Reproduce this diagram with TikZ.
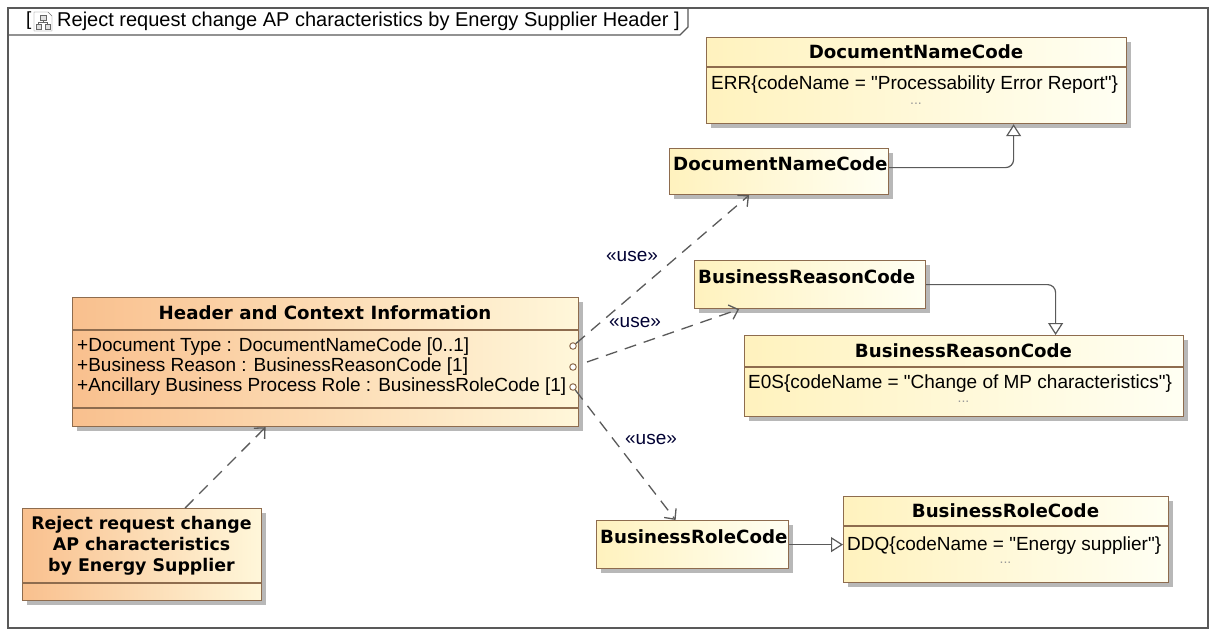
\documentclass[tikz,border=0pt]{standalone}
\usepackage{fontspec}
\setmainfont{Liberation Sans}[Ligatures=TeXOff]
\newfontfamily\namefont{DejaVu Sans}
\usetikzlibrary{positioning,shadows,arrows.meta}

\definecolor{umlline}{HTML}{8E6C4E}
\definecolor{codeA}{HTML}{FFF2BE}
\definecolor{codeB}{HTML}{FFFFF3}
\definecolor{partA}{HTML}{F9C08E}
\definecolor{partB}{HTML}{FFF7DA}
\definecolor{wire}{HTML}{5A5A5A}

\tikzset{
  umlbox/.style={draw=umlline, line width=1.2pt, anchor=north west, inner sep=0pt,
    drop shadow={shadow xshift=4pt, shadow yshift=-4pt, fill=black!28, opacity=1}},
  codebox/.style={umlbox, left color=codeA, right color=codeB},
  partbox/.style={umlbox, left color=partA, right color=partB},
  boxname/.style={font=\namefont\bfseries\fontsize{18.2}{21}\selectfont, inner sep=0pt},
  boxtext/.style={font=\fontsize{19}{20}\selectfont, inner sep=0pt},
  boxdots/.style={font=\fontsize{14}{14}\selectfont, text=black!40, inner sep=0pt},
  uselabel/.style={font=\fontsize{19}{20}\selectfont, text=black!80!blue, inner sep=0pt},
  port/.style={circle, draw=umlline, fill=white, line width=1pt, minimum size=6.5pt, inner sep=0pt},
  usage/.style={draw=wire, line width=1.3pt, dash pattern=on 12pt off 8pt,
    -{Straight Barb[length=8pt,width=15pt]}},
  generalize/.style={draw=wire, line width=1.2pt, rounded corners=8pt,
    -{Triangle[open,length=12pt,width=15pt,fill=white]}},
}

\begin{document}
\begin{tikzpicture}[x=1pt,y=-1pt]
    \useasboundingbox[fill=white] (0,0) rectangle (1216,635);
    % diagram frame and its tab
    \draw[black!65, line width=1.2pt] (8,8) rectangle (1208,628);
    \draw[black!65, line width=1.2pt] (8,35) -- (680,35) -- (688,27) -- (688,8);
    \node[boxtext, anchor=west] (frameOpen) at (26,21) {[};
    \draw[black!55, fill=white] (34,12) -- (48,12) -- (52,16) -- (52,31) -- (34,31) -- cycle;
    \draw[black!60, fill=black!12] (40,15) rectangle (46,20) (36,24) rectangle (41,29)
      (45,24) rectangle (50,29);
    \draw[black!60] (43,20) -- (43,22) -- (38.5,22) -- (38.5,24) (43,22) -- (47.5,22) -- (47.5,24);
    \node[boxtext, anchor=west, font=\fontsize{20}{20}\selectfont] (frameTitle) at (57,21)
      {Reject request change AP characteristics by Energy Supplier Header ]};

    % enumerations on the right
    \node[codebox, minimum width=420pt, minimum height=86pt] (docEnum) at (706,37) {};
    \draw[umlline, line width=1.2pt] (docEnum.west |- 0,67) -- (docEnum.east |- 0,67);
    \node[boxname] (docEnumName) at (916,52) {DocumentNameCode};
    \node[boxtext, anchor=west] (docEnumErr) at (711,85)
      {ERR\{codeName = "Processability Error Report"\}};
    \node[boxdots] (docEnumMore) at (916,104) {...};

    \node[codebox, minimum width=439pt, minimum height=81pt] (reasonEnum) at (744,335) {};
    \draw[umlline, line width=1.2pt] (reasonEnum.west |- 0,367) -- (reasonEnum.east |- 0,367);
    \node[boxname] (reasonEnumName) at (963.5,351) {BusinessReasonCode};
    \node[boxtext, anchor=west] (reasonEnumE0S) at (748,384)
      {E0S\{codeName = "Change of MP characteristics"\}};
    \node[boxdots] (reasonEnumMore) at (963.5,402) {...};

    \node[codebox, minimum width=325pt, minimum height=86pt] (roleEnum) at (843,496) {};
    \draw[umlline, line width=1.2pt] (roleEnum.west |- 0,526) -- (roleEnum.east |- 0,526);
    \node[boxname] (roleEnumName) at (1005.5,511) {BusinessRoleCode};
    \node[boxtext, anchor=west] (roleEnumDDQ) at (847,546)
      {DDQ\{codeName = "Energy supplier"\}};
    \node[boxdots] (roleEnumMore) at (1005.5,563) {...};

    % data types used by the header
    \node[codebox, minimum width=219pt, minimum height=46pt] (docCode) at (669,148) {};
    \node[boxname, anchor=west] (docCodeName) at (673,164) {DocumentNameCode};
    \node[codebox, minimum width=231pt, minimum height=48pt] (reasonCode) at (694,260) {};
    \node[boxname, anchor=west] (reasonCodeName) at (698,277) {BusinessReasonCode};
    \node[codebox, minimum width=192pt, minimum height=48pt] (roleCode) at (596,520) {};
    \node[boxname, anchor=west] (roleCodeName) at (600,537) {BusinessRoleCode};

    % header class
    \node[partbox, minimum width=506pt, minimum height=129pt] (header) at (72,297) {};
    \draw[umlline, line width=1.2pt] (header.west |- 0,330) -- (header.east |- 0,330);
    \draw[umlline, line width=1.2pt] (header.west |- 0,408) -- (header.east |- 0,408);
    \node[boxname] (headerName) at (325,313) {Header and Context Information};
    \node[boxtext, anchor=west] (headerType) at (77,347)
      {+Document Type : DocumentNameCode [0..1]};
    \node[boxtext, anchor=west] (headerReason) at (77,367)
      {+Business Reason : BusinessReasonCode [1]};
    \node[boxtext, anchor=west] (headerRole) at (77,387)
      {+Ancillary Business Process Role : BusinessRoleCode [1]};
    \node[port] (portType) at (573,346) {};
    \node[port] (portReason) at (573,367) {};
    \node[port] (portRole) at (573,387) {};

    % document class
    \node[partbox, minimum width=239pt, minimum height=92pt] (reject) at (22,508) {};
    \draw[umlline, line width=1.2pt] (reject.west |- 0,583) -- (reject.east |- 0,583);
    \node[boxname, align=center, font=\namefont\bfseries\fontsize{17.4}{21}\selectfont]
      (rejectName) at (141.5,546) {Reject request change\\AP characteristics\\by Energy Supplier};

    % usages
    \draw[usage] (portType) -- ([xshift=-30pt]docCode.south);
    \draw[usage] ([shift={(14pt,5pt)}]portReason.center) -- ([xshift=-71pt]reasonCode.south);
    \draw[usage] (portRole) -- ([xshift=-17pt]roleCode.north);
    \draw[usage] ([xshift=43pt]reject.north) -- ([xshift=-60pt]header.south);
    \node[uselabel] (useType) at (632,256) {«use»};
    \node[uselabel] (useReason) at (635,322) {«use»};
    \node[uselabel] (useRole) at (651,439) {«use»};

    % generalizations
    \draw[generalize] ([yshift=4pt]docCode.east) -| ([xshift=97pt]docEnum.south);
    \draw[generalize] (reasonCode.east) -| ([xshift=91.5pt]reasonEnum.north);
    \draw[generalize] (roleCode.east) -- (roleEnum.west |- roleCode.east);
\end{tikzpicture}
\end{document}
